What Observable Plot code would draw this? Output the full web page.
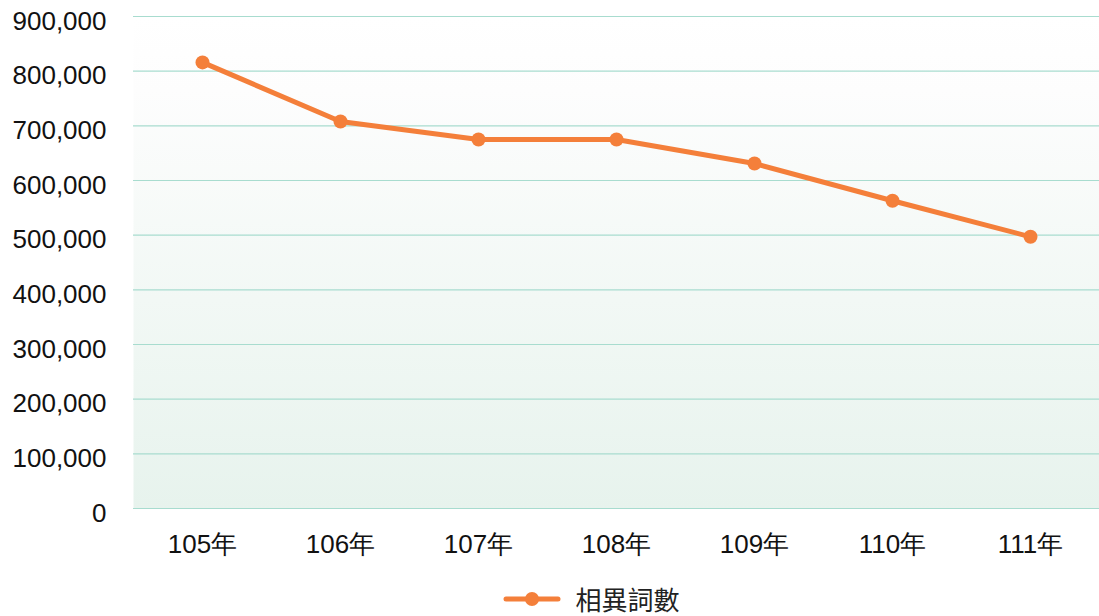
<!DOCTYPE html>
<html>
<head>
<meta charset="utf-8">
<script src="https://cdn.jsdelivr.net/npm/d3@7"></script>
<script src="https://cdn.jsdelivr.net/npm/@observablehq/plot@0.6"></script>
<style>
  html, body { margin: 0; padding: 0; background: #fff; overflow: hidden; }
  #chart svg { display: block; }
  .legend { display: flex; justify-content: center; align-items: center; height: 40px; padding-top: 6px; font-family: "Noto Sans CJK TC", sans-serif; font-size: 26px; color: #222; padding-left: 84px; box-sizing: border-box; }
  .legend span { line-height: 1; }
  .legend svg { margin-right: 14px; }
</style>
</head>
<body>
<div id="chart"></div>
<div class="legend"><svg width="58" height="20"><line x1="3" y1="10" x2="55" y2="10" stroke="#F47F3A" stroke-width="5" stroke-linecap="round"/><circle cx="29" cy="10" r="7" fill="#F47F3A"/></svg><span>相異詞數</span></div>
<script>
const years = ["105年", "106年", "107年", "108年", "109年", "110年", "111年"];
const counts = [816000, 708000, 675000, 675000, 631000, 563000, 497000];
const yTicks = [0, 100000, 200000, 300000, 400000, 500000, 600000, 700000, 800000, 900000];
const seriesName = "相異詞數";

const data = years.map((y, i) => ({year: y, value: counts[i]}));
const orange = "#F47F3A";

const gradientDefs = () => {
  const ns = "http://www.w3.org/2000/svg";
  const defs = document.createElementNS(ns, "defs");
  const lg = document.createElementNS(ns, "linearGradient");
  lg.setAttribute("id", "bggrad");
  lg.setAttribute("x1", "0"); lg.setAttribute("y1", "0");
  lg.setAttribute("x2", "0"); lg.setAttribute("y2", "1");
  [["0%", "#ffffff"], ["15%", "#fdfdfd"], ["100%", "#e7f3ed"]].forEach(([o, c]) => {
    const s = document.createElementNS(ns, "stop");
    s.setAttribute("offset", o); s.setAttribute("stop-color", c);
    lg.appendChild(s);
  });
  defs.appendChild(lg);
  return defs;
};

const chart = Plot.plot({
  width: 1099,
  height: 576,
  marginTop: 16,
  marginBottom: 68,
  marginLeft: 133,
  marginRight: 0,
  style: {fontFamily: "'Liberation Sans', Arial, sans-serif", fontSize: "26px", color: "#111", background: "transparent", overflow: "visible"},
  x: {domain: years, type: "band", padding: 0, label: null},
  y: {domain: [0, 900000], label: null},
  marks: [
    gradientDefs,
    Plot.frame({fill: "url(#bggrad)", stroke: null}),
    Plot.ruleY(yTicks, {stroke: "#a8dccf", strokeWidth: 1.2}),
    Plot.line(data, {x: "year", y: "value", stroke: orange, strokeWidth: 5}),
    Plot.dot(data, {x: "year", y: "value", r: 7, fill: orange, stroke: null}),
    Plot.axisX({tickSize: 0, tickPadding: 26, fontSize: 26, label: null}),
    Plot.axisY({ticks: yTicks, tickSize: 0, tickPadding: 27, tickFormat: d3.format(","), fontSize: 26, dy: 5, label: null})
  ]
});
document.getElementById("chart").appendChild(chart);
</script>
</body>
</html>
